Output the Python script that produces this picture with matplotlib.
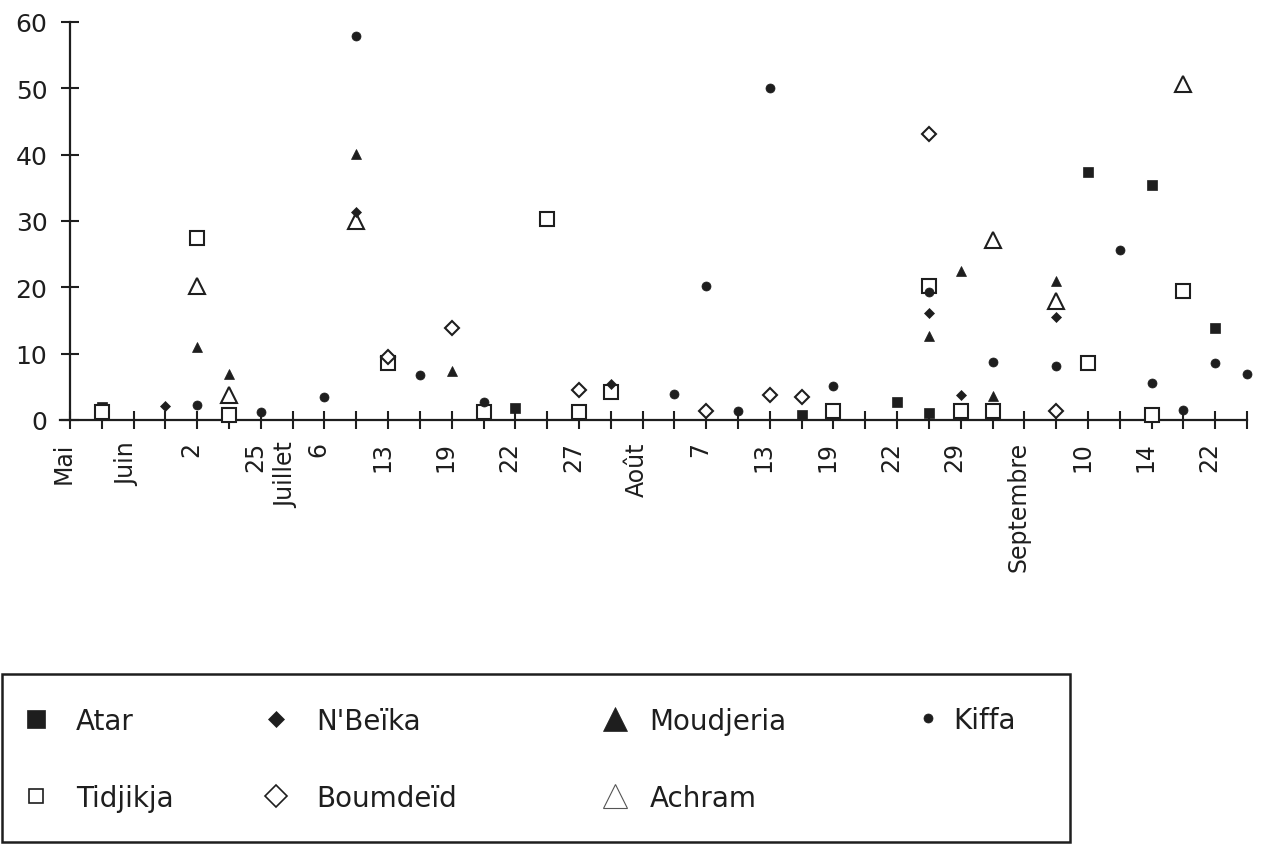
import matplotlib
matplotlib.use('Agg')
import matplotlib.pyplot as plt
from matplotlib.lines import Line2D
from matplotlib.patches import Rectangle
from matplotlib.transforms import ScaledTranslation

# category positions along the axis (one tick per observation date)
n_ticks = 38
label_pos = [0, 2, 4, 6, 7, 8, 10, 12, 14, 16, 18, 20, 22, 24, 26, 28, 30, 32, 34, 36]
label_txt = ['Mai', 'Juin', '2', '25', 'Juillet', '6', '13', '19', '22', '27',
             'Août', '7', '13', '19', '22', '29', 'Septembre', '10', '14', '22']

idx_atar = [1, 14, 23, 26, 27, 32, 34, 36]
atar = [2.0, 1.8, 0.7, 2.7, 1.0, 37.4, 35.4, 13.9]

idx_nbeika = [3, 9, 17, 27, 28, 31]
nbeika = [2.1, 31.3, 5.4, 16.2, 3.8, 15.6]

idx_moudjeria = [4, 5, 9, 12, 27, 28, 29, 31]
moudjeria = [11.0, 6.9, 40.1, 7.4, 12.7, 22.5, 3.6, 21.0]

idx_kiffa = [4, 6, 8, 9, 11, 13, 19, 20, 21, 22, 24, 27, 29, 31, 33, 34, 35, 36, 37]
kiffa = [2.3, 1.2, 3.4, 57.9, 6.8, 2.7, 3.9, 20.2, 1.4, 50.0, 5.2, 19.3, 8.8, 8.1,
         25.7, 5.6, 1.5, 8.6, 6.9]

idx_tidjikja = [1, 4, 5, 10, 13, 15, 16, 17, 24, 27, 28, 29, 32, 34, 35]
tidjikja = [1.2, 27.4, 0.7, 8.6, 1.2, 30.3, 1.2, 4.2, 1.4, 20.2, 1.3, 1.3, 8.6, 0.8, 19.5]

idx_boumdeid = [10, 12, 16, 20, 22, 23, 27, 31]
boumdeid = [9.5, 13.9, 4.5, 1.3, 3.7, 3.4, 43.1, 1.3]

idx_achram = [4, 5, 9, 29, 31, 35]
achram = [20.2, 3.8, 30.0, 27.1, 18.0, 50.7]

ink = '#1e1e1e'
W, H = 1261, 845

fig = plt.figure(figsize=(W / 100, H / 100), dpi=100)
ax = fig.add_axes([59.8 / W, (H - 421) / H, (1247 - 59.8) / W, (421 - 23) / H])

def pts(x, y, marker, ms, filled, z, mew=1.5):
    ax.plot(x, y, linestyle='none', marker=marker, markersize=ms,
            markerfacecolor=ink if filled else 'white', markeredgecolor=ink,
            markeredgewidth=mew if not filled else 0.5, clip_on=False, zorder=z)

pts(idx_atar, atar, 's', 6.5, True, 3)
pts(idx_tidjikja, tidjikja, 's', 9.5, False, 4)
pts(idx_boumdeid, boumdeid, 'D', 7.5, False, 5)
pts(idx_achram, achram, '^', 12, False, 6)
pts(idx_nbeika, nbeika, 'D', 4.8, True, 7)
pts(idx_moudjeria, moudjeria, '^', 7, True, 8)
pts(idx_kiffa, kiffa, 'o', 6.5, True, 9)

ax.set_xlim(-0.32, n_ticks - 1)
ax.set_ylim(0, 60)
for s in ['top', 'right']:
    ax.spines[s].set_visible(False)
ax.spines['left'].set_position(('data', 0))
for s in ['left', 'bottom']:
    ax.spines[s].set_linewidth(1.6)
    ax.spines[s].set_color(ink)

ax.set_xticks(range(n_ticks))
names = [''] * n_ticks
for p, t in zip(label_pos, label_txt):
    names[p] = t
ax.set_xticklabels(names, rotation=90, fontsize=17, color=ink)
ax.set_yticks(range(0, 61, 10))
ax.set_yticklabels([str(v) for v in range(0, 61, 10)], fontsize=18, color=ink)
ax.tick_params(axis='both', direction='inout', length=12.5, width=1.5, color=ink)
ax.tick_params(axis='x', pad=9)
ax.tick_params(axis='y', pad=10)
shift = ScaledTranslation(-0.06, 0, fig.dpi_scale_trans)
for lab in ax.get_xticklabels():
    lab.set_transform(lab.get_transform() + shift)

# legend box
fig.patches.append(Rectangle((2 / W, 2 / H), (1070 - 2) / W, (843 - 675) / H,
                             transform=fig.transFigure, fill=False,
                             edgecolor=ink, linewidth=1.8))

def h(marker, ms, filled, mew=1.2, ec=ink):
    return Line2D([], [], linestyle='none', marker=marker, markersize=ms,
                  markerfacecolor=ink if filled else 'white',
                  markeredgecolor=ec, markeredgewidth=mew if not filled else 0.5)

columns = [
    ([h('s', 13, True), h('s', 10, False)], ['Atar', 'Tidjikja'], 22, 0.94, 760.5),
    ([h('D', 8.5, True), h('D', 11, False)], ["N'Beïka", 'Boumdeïd'], 262, 0.97, 760.5),
    ([h('^', 17, True), h('^', 17, False, 0.8, '#555555')], ['Moudjeria', 'Achram'], 601, 0.75, 760.5),
    ([h('o', 6.5, True)], ['Kiffa'], 914, 0.43, 721),
]
for handles, labels, x0, tpad, yc in columns:
    fig.legend(handles, labels, loc='center left', bbox_to_anchor=(x0 / W, (H - yc) / H),
               frameon=False, fontsize=20, handlelength=1.0, handletextpad=tpad,
               labelspacing=1.75, borderpad=0, borderaxespad=0, labelcolor=ink)

fig.savefig('out.png', dpi=100, facecolor='white')
